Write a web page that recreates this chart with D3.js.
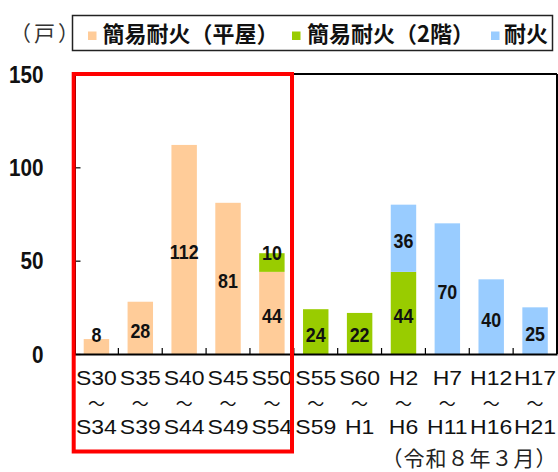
<!DOCTYPE html>
<html><head><meta charset="utf-8">
<script src="https://cdn.jsdelivr.net/npm/d3@7"></script>
<style>body{margin:0;background:#fff}svg{display:block}</style>
</head><body><svg id="c" width="558" height="472"></svg>
<script>
// ---- data ----
const periodStart = ["S30","S35","S40","S45","S50","S55","S60","H2","H7","H12","H17"];
const periodEnd   = ["S34","S39","S44","S49","S54","S59","H1","H6","H11","H16","H21"];
const hiraya = [8,28,112,81,44,0,0,0,0,0,0];      // 簡易耐火（平屋）
const nikai  = [0,0,0,0,10,24,22,44,0,0,0];        // 簡易耐火（2階）
const taika  = [0,0,0,0,0,0,0,36,70,40,25];        // 耐火
const seriesKeys = ["hiraya","nikai","taika"];
const seriesNames = ["簡易耐火（平屋）","簡易耐火（2階）","耐火"];
const seriesColors = ["#FFCC99","#99CC00","#99CCFF"];
const yTicks = [0,50,100,150];
const unitLabel = "（戸）";
const noteLabel = "（令和８年３月）";

// ---- layout ----
const L = 74.5, R = 557, T = 74, B = 354;
const svg = d3.select("#c");
const latin = "'Liberation Sans', Arial, 'Noto Sans CJK JP', sans-serif";
const cjk = "'Noto Sans CJK JP', 'Liberation Sans', sans-serif";

const rows = periodStart.map((s,i)=>({key:s, hiraya:hiraya[i], nikai:nikai[i], taika:taika[i]}));
const x = d3.scaleBand().domain(periodStart).range([L,R]).paddingInner(0.42).paddingOuter(0.21);
const y = d3.scaleLinear().domain([0,150]).range([B,T]);
const color = d3.scaleOrdinal().domain(seriesKeys).range(seriesColors);
const stacked = d3.stack().keys(seriesKeys)(rows);

// bars
const layers = svg.append("g").selectAll("g").data(stacked).join("g").attr("fill", d=>color(d.key));
layers.selectAll("rect").data(d=>d.filter(s=>s[1]-s[0]>0)).join("rect")
  .attr("x", d=>x(d.data.key)).attr("width", x.bandwidth())
  .attr("y", d=>y(d[1])).attr("height", d=>y(d[0])-y(d[1]));

// value labels
stacked.forEach(layer=>{
  layer.forEach(s=>{
    const v = s[1]-s[0];
    if (v<=0) return;
    const cx = x(s.data.key)+x.bandwidth()/2;
    const cy = Math.min((y(s[0])+y(s[1]))/2 + 10, y(s[0]) - 12);
    svg.append("text")
      .attr("transform", `translate(${cx},${cy}) scale(0.85,1)`)
      .attr("text-anchor","middle")
      .attr("font-family", latin).attr("font-weight","bold").attr("font-size",21)
      .attr("fill","#111").text(v);
  });
});

// frame: top and right
svg.append("line").attr("x1",L).attr("x2",R).attr("y1",T).attr("y2",T).attr("stroke","#000").attr("stroke-width",2);
svg.append("line").attr("x1",R).attr("x2",R).attr("y1",T).attr("y2",B).attr("stroke","#000").attr("stroke-width",2);

// y axis
const yAxis = svg.append("g").attr("transform",`translate(${L},0)`)
  .call(d3.axisLeft(y).tickValues(yTicks).tickSizeInner(-6).tickSizeOuter(0).tickPadding(31));
yAxis.select(".domain").attr("stroke","#000").attr("stroke-width",2);
yAxis.selectAll(".tick line").attr("stroke","#000").attr("stroke-width",1.2);
yAxis.selectAll(".tick text")
  .attr("x",null).attr("dy",null)
  .attr("transform","translate(-31,8.3) scale(0.9,1)")
  .attr("font-family", latin).attr("font-weight","bold").attr("font-size",23).attr("fill","#111");

// x axis baseline + boundary ticks
const xAxis = svg.append("g").attr("transform",`translate(0,${B})`)
  .call(d3.axisBottom(x).tickSizeOuter(0).tickSize(0).tickFormat(""));
xAxis.select(".domain").attr("stroke","#000").attr("stroke-width",2);
xAxis.selectAll(".tick").remove();
const step = x.step();
periodStart.slice(1).forEach(k=>{
  const bx = x(k) - step*x.paddingInner()/2;
  svg.append("line").attr("x1",bx).attr("x2",bx).attr("y1",B).attr("y2",B-6).attr("stroke","#000").attr("stroke-width",1.2);
});

// x labels (three lines)
periodStart.forEach((s,i)=>{
  const cx = x(s)+x.bandwidth()/2;
  const g = svg.append("g").attr("font-family", latin).attr("font-size",20).attr("fill","#111").attr("text-anchor","middle");
  g.append("text").attr("transform",`translate(${cx},385) scale(1.15,1)`).text(s);
  g.append("text").attr("x",cx).attr("y",410).attr("font-family",cjk).attr("font-size",17).text("～");
  g.append("text").attr("transform",`translate(${cx},434) scale(1.15,1)`).text(periodEnd[i]);
});

// legend
svg.append("rect").attr("x",72.5).attr("y",15.5).attr("width",480).attr("height",35)
  .attr("fill","#fff").attr("stroke","#222").attr("stroke-width",1.5);
const sqX = [88,292,491], txX = [102.5,307,504];
seriesNames.forEach((n,i)=>{
  svg.append("rect").attr("x",sqX[i]).attr("y",31.5).attr("width",8.5).attr("height",8.5).attr("fill",seriesColors[i]);
  svg.append("text").attr("x",txX[i]).attr("y",41.5).attr("font-family",cjk).attr("font-weight","bold")
    .attr("font-size",22).attr("fill","#111").text(n);
});
svg.append("text").attr("x",10).attr("y",41).attr("font-family",cjk).attr("letter-spacing",3)
  .attr("font-size",21).attr("fill","#333").text(unitLabel);

// note
svg.append("text").attr("x",381.5).attr("y",466).attr("font-family",cjk).attr("letter-spacing",1)
  .attr("font-size",21).attr("fill","#222").text(noteLabel);

// red highlight box
svg.append("rect").attr("x",73.7).attr("y",74).attr("width",218.3).attr("height",377.5)
  .attr("fill","none").attr("stroke","#FF0000").attr("stroke-width",4);
</script></body></html>
